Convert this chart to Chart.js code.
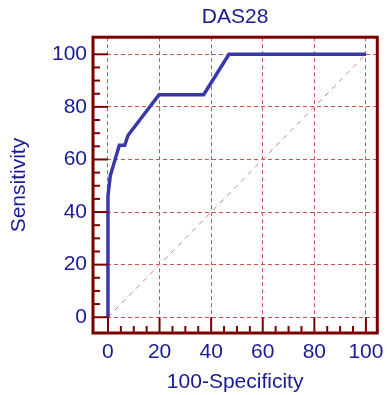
<!DOCTYPE html>
<html lang="en">
<head>
    <meta charset="UTF-8">
    <title>DAS28 ROC</title>
    <style>
        * { margin: 0; padding: 0; box-sizing: border-box; }
        body { background: #ffffff; width: 391px; height: 395px; overflow: hidden; }
        #wrap { width: 391px; height: 395px; }
    </style>
    <script src="https://cdn.jsdelivr.net/npm/chart.js"></script>
</head>
<body>
    <div id="wrap"><canvas id="roc"></canvas></div>

    <script>
        // ROC curve
        const specInv = [0, 0, 0.9, 4.4, 6.5, 7.8, 19.8, 37.1, 46.9, 100];
        const sensitivity = [0, 46.2, 53.8, 65.4, 65.4, 69.2, 84.6, 84.6, 100, 100];
        const chanceLine = [0, 100];
        const tickVals = [0, 20, 40, 60, 80, 100];
        const minorVals = [5, 10, 15, 25, 30, 35, 45, 50, 55, 65, 70, 75, 85, 90, 95];

        const frameColor = "#7a0000";
        const textColor = "#1a1a96";
        const font = "'Liberation Sans', Arial, sans-serif";

        // frame + inner ticks like the original plot
        const framePlugin = {
            id: "frame",
            afterDatasetsDraw(chart) {
                const { ctx, chartArea: a, scales } = chart;
                const x0 = scales.x.getPixelForValue(0);
                const y0 = scales.y.getPixelForValue(0);
                ctx.save();
                ctx.strokeStyle = frameColor;
                ctx.lineWidth = 2;
                tickVals.forEach(v => {
                    const px = scales.x.getPixelForValue(v);
                    ctx.beginPath(); ctx.moveTo(px, a.bottom); ctx.lineTo(px, y0); ctx.stroke();
                    const py = scales.y.getPixelForValue(v);
                    ctx.beginPath(); ctx.moveTo(a.left, py); ctx.lineTo(x0, py); ctx.stroke();
                });
                minorVals.forEach(v => {
                    const px = scales.x.getPixelForValue(v);
                    ctx.beginPath(); ctx.moveTo(px, a.bottom); ctx.lineTo(px, a.bottom - 7); ctx.stroke();
                    const py = scales.y.getPixelForValue(v);
                    ctx.beginPath(); ctx.moveTo(a.left, py); ctx.lineTo(a.left + 7, py); ctx.stroke();
                });
                ctx.lineWidth = 3;
                ctx.strokeRect(a.left, a.top, a.right - a.left, a.bottom - a.top);
                ctx.restore();
            }
        };

        const ctx = document.getElementById("roc").getContext("2d");
        new Chart(ctx, {
            type: "line",
            data: {
                datasets: [
                    {
                        data: specInv.map((x, i) => ({ x: x, y: sensitivity[i] })),
                        borderColor: "#3838a8",
                        borderWidth: 3.5,
                        pointRadius: 0,
                        tension: 0
                    },
                    {
                        data: chanceLine.map(v => ({ x: v, y: v })),
                        borderColor: "#d08080",
                        borderWidth: 1,
                        borderDash: [5, 5],
                        pointRadius: 0
                    }
                ]
            },
            options: {
                responsive: true,
                maintainAspectRatio: false,
                animation: false,
                layout: { padding: { right: 6 } },
                plugins: {
                    legend: { display: false },
                    tooltip: { enabled: false },
                    title: {
                        display: true,
                        text: "DAS28",
                        fullSize: false,
                        color: textColor,
                        font: { family: font, size: 21, weight: "normal", lineHeight: 1.2 },
                        padding: { top: 5, bottom: 7 }
                    }
                },
                scales: {
                    x: {
                        type: "linear",
                        min: -5.8,
                        max: 104.4,
                        afterBuildTicks: s => { s.ticks = tickVals.map(v => ({ value: v })); },
                        afterFit: s => { s.height = 62; },
                        grid: { color: "#c85454", lineWidth: 1, drawTicks: false },
                        border: { display: false, dash: [4, 3] },
                        ticks: { color: textColor, padding: 7, font: { family: font, size: 21 } },
                        title: {
                            display: true,
                            text: "100-Specificity",
                            color: textColor,
                            font: { family: font, size: 21, lineHeight: 1.2 },
                            padding: 0
                        }
                    },
                    y: {
                        min: -6,
                        max: 106.5,
                        afterBuildTicks: s => { s.ticks = tickVals.map(v => ({ value: v })); },
                        afterFit: s => { s.width = 93; },
                        grid: { color: "#c85454", lineWidth: 1, drawTicks: false },
                        border: { display: false, dash: [4, 3] },
                        ticks: { color: textColor, padding: 6, font: { family: font, size: 21 } },
                        title: {
                            display: true,
                            text: "Sensitivity",
                            color: textColor,
                            font: { family: font, size: 21, lineHeight: 1.2 },
                            padding: { top: 7, bottom: 0 }
                        }
                    }
                }
            },
            plugins: [framePlugin]
        });
    </script>
</body>
</html>
